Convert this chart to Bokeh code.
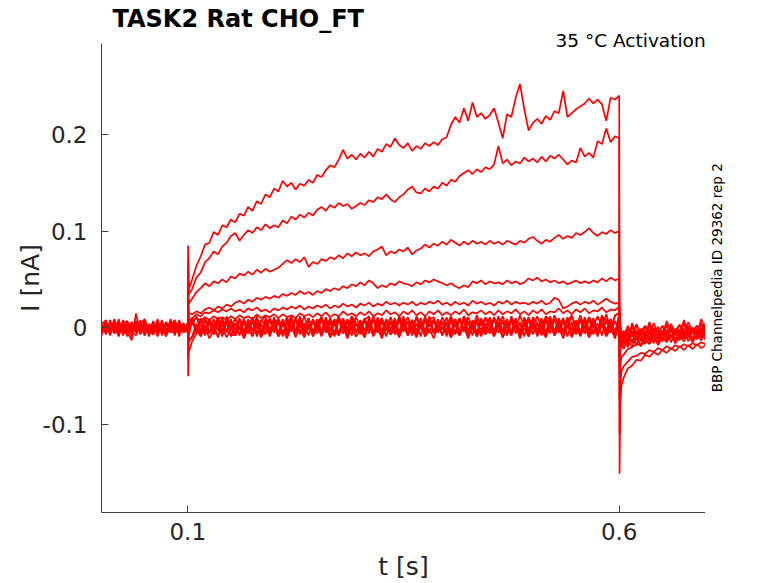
from bokeh.plotting import figure
from bokeh.layouts import row
from bokeh.models import Range1d, FixedTicker, Title, Label
from bokeh.embed import file_html
from bokeh.resources import INLINE

# ---------------- data (currents in pA) ----------------
t_pre = [round(0.005 * i, 4) for i in range(21)]            # 0.000 .. 0.100
t_on = [0.1004, 0.1012]                                      # onset transient
t_pulse = [round(0.105 + 0.005 * i, 4) for i in range(100)]  # 0.105 .. 0.600
t_off = [0.6004, 0.6012, 0.6025]                             # offset transient
t_post = [round(0.605 + 0.005 * i, 4) for i in range(20)]    # 0.605 .. 0.700

sweep1_pre = [2, -4, 5, -3, 1, -6, 4, -2, 3, -5, 2, -3, 6, -1, -4, 3, -2, 5, -3, 1, -2]
sweep1_on = [85, 40]
sweep1_pulse = [50, 64, 74, 86, 88, 99, 96, 106, 104, 112,
                109, 118, 116, 125, 121, 131, 128, 138, 135, 144,
                141, 152, 146, 150, 143, 149, 147, 153, 150, 158,
                156, 163, 168, 166, 174, 184, 175, 179, 174, 180,
                176, 182, 177, 185, 182, 190, 187, 196, 189, 186,
                191, 183, 188, 185, 191, 188, 192, 189, 195, 197,
                210, 218, 212, 227, 214, 233, 218, 222, 216, 220,
                227, 212, 196, 221, 218, 238, 252, 226, 204, 212,
                216, 211, 219, 215, 224, 222, 245, 218, 222, 226,
                229, 232, 237, 232, 236, 231, 214, 238, 236, 240]
sweep1_off = [-151, -80, -60]
sweep1_post = [-52, -42, -39, -33, -34, -28, -30, -25, -28, -23,
               -26, -21, -24, -19, -23, -18, -22, -17, -21, -18]

sweep2_pre = [-3, 2, -1, 4, -5, 3, -2, 1, 5, -4, 2, -1, -3, 4, -2, 3, -5, 1, 2, -3, 1]
sweep2_on = [70, 35]
sweep2_pulse = [40, 52, 57, 68, 72, 79, 76, 84, 88, 95,
                98, 90, 96, 101, 98, 104, 101, 107, 103, 106,
                104, 111, 108, 115, 112, 117, 114, 119, 116, 122,
                125, 121, 127, 124, 129, 126, 128, 123, 126, 129,
                127, 132, 130, 135, 133, 138, 133, 130, 135, 138,
                143, 146, 140, 139, 144, 141, 146, 144, 150, 147,
                153, 151, 157, 160, 163, 159, 164, 161, 166, 164,
                169, 188, 170, 174, 168, 172, 170, 176, 172, 175,
                171, 177, 172, 178, 175, 179, 174, 169, 173, 171,
                186, 177, 181, 176, 193, 190, 206, 192, 198, 196]
sweep2_off = [-110, -60, -45]
sweep2_post = [-40, -35, -30, -29, -26, -27, -23, -25, -21, -23,
               -19, -22, -18, -20, -17, -19, -16, -18, -15, -17]

sweep3_pre = [1, -4, 3, -2, 5, -1, -3, 4, -5, 2, 0, 3, -4, 1, -2, 5, -3, 2, -1, 4, -2]
sweep3_on = [55, 25]
sweep3_pulse = [30, 37, 41, 46, 43, 48, 46, 50, 47, 53,
                51, 56, 54, 58, 55, 60, 57, 61, 58, 60,
                62, 66, 70, 67, 71, 68, 73, 63, 68, 66,
                71, 69, 73, 71, 75, 72, 77, 74, 78, 75,
                77, 74, 79, 81, 84, 75, 79, 77, 81, 79,
                83, 76, 80, 82, 86, 83, 87, 85, 89, 86,
                91, 88, 85, 89, 86, 90, 87, 89, 86, 90,
                87, 89, 86, 90, 88, 86, 90, 88, 92, 94,
                90, 87, 91, 89, 93, 96, 92, 95, 93, 98,
                96, 99, 103, 98, 95, 99, 97, 101, 98, 100]
sweep3_off = [-75, -40, -30]
sweep3_post = [-28, -22, -20, -17, -18, -14, -16, -12, -14, -10,
               -13, -9, -12, -8, -11, -9, -12, -8, -10, -9]

sweep4_pre = [-2, 3, -5, 1, 4, -3, 2, -1, -4, 5, -2, 1, 3, -3, 0, -5, 4, -1, 2, -4, 2]
sweep4_on = [40, 15]
sweep4_pulse = [14, 17, 15, 19, 21, 18, 22, 20, 24, 22,
                26, 28, 25, 29, 27, 31, 29, 32, 30, 33,
                31, 35, 33, 36, 34, 38, 35, 37, 34, 38,
                36, 40, 38, 41, 39, 43, 41, 45, 43, 47,
                44, 49, 46, 41, 44, 42, 46, 44, 48, 46,
                45, 43, 47, 45, 49, 47, 50, 48, 46, 44,
                46, 43, 41, 44, 42, 48, 46, 49, 45, 48,
                46, 47, 45, 49, 46, 48, 45, 47, 51, 49,
                52, 48, 50, 47, 49, 46, 48, 45, 47, 49,
                46, 48, 46, 49, 47, 51, 48, 52, 49, 51]
sweep4_off = [-45, -25, -18]
sweep4_post = [-16, -12, -13, -9, -11, -7, -10, -6, -9, -5,
               -8, -4, -7, -5, -8, -3, -6, -4, -7, -3]

sweep5_pre = [3, -1, -4, 2, 5, -3, 1, -2, 4, -5, 3, 0, -2, 5, -4, 2, -1, 3, -3, 1, 0]
sweep5_on = [30, 8]
sweep5_pulse = [10, 14, 12, 16, 15, 18, 16, 19, 17, 20,
                17, 19, 16, 20, 18, 21, 17, 19, 16, 20,
                18, 21, 19, 22, 20, 23, 19, 22, 20, 23,
                21, 24, 20, 23, 21, 25, 22, 24, 21, 25,
                23, 26, 22, 25, 23, 27, 24, 26, 23, 26,
                24, 27, 23, 26, 24, 27, 25, 28, 24, 26,
                23, 27, 24, 26, 23, 28, 25, 27, 24, 26,
                23, 27, 25, 28, 24, 27, 25, 26, 24, 27,
                25, 28, 24, 26, 31, 29, 20, 22, 25, 27,
                24, 27, 25, 28, 24, 27, 30, 27, 25, 26]
sweep5_off = [-35, -18, -12]
sweep5_post = [-11, -7, -9, -4, -8, -3, -7, -2, -6, -3,
               -7, -1, -5, -2, -6, 0, -4, -2, -5, -1]

sweep6_pre = [-1, 4, -3, 2, -5, 1, 3, -4, 2, -2, 5, -3, 1, -1, 4, -4, 2, -2, 3, -5, 1]
sweep6_on = [20, 5]
sweep6_pulse = [6, 10, 7, 11, 8, 12, 9, 11, 8, 12,
                9, 13, 10, 12, 9, 14, 10, 13, 11, 14,
                10, 14, 11, 13, 10, 15, 12, 14, 11, 15,
                12, 16, 11, 14, 12, 17, 13, 15, 12, 16,
                13, 17, 12, 15, 13, 18, 14, 16, 12, 17,
                14, 18, 13, 16, 12, 17, 14, 18, 13, 16,
                13, 17, 14, 19, 13, 16, 15, 18, 14, 17,
                13, 18, 14, 17, 15, 19, 14, 17, 13, 18,
                15, 19, 14, 17, 16, 20, 15, 18, 14, 19,
                16, 20, 15, 18, 17, 21, 16, 19, 18, 22]
sweep6_off = [-25, -12, -8]
sweep6_post = [-6, -2, -5, 1, -4, 2, -3, -1, -5, 2,
               -4, 0, -3, 3, -2, -1, -4, 2, -3, 1]

sweep7_pre = [6, -7, 8, -5, 9, -8, 4, -9, 7, -6, 8, -4, 7, -9, 5, -7, 9, -6, 8, -5, 4]
sweep7_on = [-50, -25]
sweep7_pulse = [-14, -6, 3, -8, 6, -7, 8, -5, 7, -9,
                5, -8, 9, -6, 7, -9, 4, -7, 8, -5,
                6, -9, 8, -4, 9, -7, 5, -8, 7, -6,
                9, -5, 6, -9, 8, -6, 7, -8, 5, -7,
                8, -6, 9, -5, 7, -9, 6, -7, 8, -4,
                7, -8, 5, -9, 9, -6, 8, -5, 6, -9,
                8, -7, 9, -4, 6, -8, 7, -9, 5, -6,
                9, -5, 7, -8, 8, -6, 6, -9, 9, -7,
                5, -8, 8, -6, 9, -5, 7, -9, 6, -7,
                8, -6, 9, -7, 5, -8, 9, -5, 7, -4]
sweep7_off = [-20, -12, -8]
sweep7_post = [-15, -3, -16, -2, -14, -5, -13, 0, -12, -4,
               -11, 1, -13, -2, -10, 2, -12, -1, -9, 0]

sweep8_pre = [-5, 7, -8, 5, -6, 8, -4, -13, 15, -7, 6, -9, 5, -6, 8, -5, 7, -8, 6, -4, -3]
sweep8_on = [10, -8]
sweep8_pulse = [7, -5, 9, -6, 8, -7, 5, -9, 6, -8,
                -7, 8, -5, 9, -8, 6, -9, 7, -6, 8,
                -9, 5, -7, 8, -6, 9, -8, 4, -7, 6,
                -6, 9, -8, 5, -7, 8, -9, 6, -5, 7,
                -8, 6, -9, 7, -5, 9, -7, 5, -6, 8,
                -5, 8, -7, 6, -9, 7, -6, 9, -8, 5,
                -7, 9, -6, 8, -8, 5, -9, 7, -5, 9,
                -8, 6, -5, 9, -7, 8, -6, 5, -9, 7,
                -6, 8, -9, 6, -5, 9, -7, 8, -8, 6,
                -9, 7, -6, 8, -7, 5, -8, 9, -5, 10]
sweep8_off = [15, -5, -10]
sweep8_post = [-6, -20, -4, -18, -7, -17, -3, -16, -6, -14,
               -2, -15, -5, -13, -1, -14, -4, -12, 0, -13]

sweep9_pre = [2, -3, 4, -6, 3, -2, 6, -5, 1, -3, 5, -7, 2, -4, 6, -2, 3, -6, 4, -1, 2]
sweep9_on = [15, 2]
sweep9_pulse = [8, -1, 10, 0, 9, -2, 11, 1, 8, -1,
                10, -2, 9, 0, 11, -1, 8, 2, 10, -2,
                9, 1, 11, -1, 10, 0, 12, -2, 9, 1,
                11, -1, 10, 2, 12, 0, 9, -1, 11, 1,
                10, -2, 12, 1, 9, 0, 11, -1, 12, 2,
                11, 0, 10, -2, 12, 1, 9, -1, 11, 2,
                12, 1, 10, -1, 11, 0, 13, 2, 10, -1,
                11, 2, 12, 0, 10, -1, 13, 1, 11, 0,
                12, 1, 11, -1, 13, 2, 10, 0, 12, 1,
                13, 0, 11, 2, 12, 1, 14, -1, 12, 16]
sweep9_off = [18, 4, -6]
sweep9_post = [-10, 2, -9, 4, -8, 1, -7, 5, -6, 2,
               -8, 4, -5, 3, -7, 6, -4, 2, -6, 5]

sweep10_pre = [-6, 3, -2, 5, -7, 1, -4, 6, -3, 2, -8, 4, -1, 3, -5, 6, -2, 4, -6, 3, -1]
sweep10_on = [-30, -12]
sweep10_pulse = [-10, -2, -9, 1, -11, -3, -8, 0, -10, -1,
                 -8, 2, -11, -1, -9, 3, -10, 0, -7, 1,
                 -9, -2, -11, 2, -8, -1, -10, 3, -9, 0,
                 -7, 1, -10, -3, -8, 2, -11, 0, -9, -2,
                 -10, 3, -8, -1, -11, 1, -7, -2, -9, 2,
                 -8, 0, -10, 3, -9, -1, -11, 2, -7, 0,
                 -10, -2, -8, 1, -11, 3, -9, 0, -7, -1,
                 -9, 2, -10, -1, -8, 3, -11, 0, -9, 1,
                 -7, -2, -10, 2, -8, 0, -11, 3, -9, -1,
                 -8, 1, -10, -2, -7, 3, -9, 0, -11, 2]
sweep10_off = [-30, -20, -15]
sweep10_post = [-22, -12, -20, -9, -19, -11, -17, -8, -18, -10,
                -15, -7, -16, -9, -14, -6, -15, -8, -13, -5]

sweep11_pre = [4, -2, -6, 7, -3, 2, -5, 3, -1, 6, -4, 1, -7, 4, -2, 5, -3, -6, 2, -4, 3]
sweep11_on = [25, 10]
sweep11_pulse = [3, 12, -4, 8, -6, 9, -3, 11, -5, 7,
                 -2, 10, -6, 8, -3, 12, -5, 9, -4, 11,
                 -6, 7, -3, 10, -5, 12, -2, 8, -6, 9,
                 -4, 11, -3, 7, -6, 10, -2, 12, -5, 8,
                 -3, 9, -6, 11, -4, 8, -2, 10, -5, 12,
                 -6, 8, -3, 10, -4, 12, -5, 7, -2, 11,
                 -4, 9, -6, 12, -3, 8, -5, 10, -2, 11,
                 -5, 12, -3, 8, -6, 10, -4, 11, -2, 9,
                 -3, 10, -5, 12, -4, 9, -6, 11, -3, 8,
                 -5, 11, -2, 10, -4, 13, -3, 9, -5, 14]
sweep11_off = [10, -8, -14]
sweep11_post = [-4, -16, 2, -13, -3, -11, 4, -12, -2, -9,
                3, -10, -1, -8, 5, -9, 0, -7, 4, -6]

sweep12_pre = [-8, 5, -3, 9, -6, 2, -9, 6, -4, 8, -7, 3, -5, 9, -8, 4, -2, 7, -9, 5, -6]
sweep12_on = [5, -15]
sweep12_pulse = [-9, 4, -7, 10, -5, 3, -10, 7, -4, 9,
                 -8, 2, -10, 6, -3, 10, -7, 4, -9, 5,
                 -5, 9, -8, 3, -10, 7, -6, 10, -4, 2,
                 -9, 6, -3, 9, -7, 4, -10, 8, -5, 3,
                 -8, 10, -6, 2, -9, 7, -4, 9, -10, 5,
                 -3, 8, -9, 4, -7, 10, -5, 3, -8, 6,
                 -10, 7, -4, 9, -6, 2, -9, 8, -5, 10,
                 -7, 3, -10, 6, -4, 9, -8, 5, -3, 7,
                 -9, 4, -6, 10, -8, 2, -5, 9, -10, 6,
                 -4, 8, -7, 3, -9, 10, -6, 5, -8, 11]
sweep12_off = [22, 5, -12]
sweep12_post = [-18, -6, -15, -9, -19, -4, -14, -8, -16, -3,
                -12, -7, -15, -2, -11, -6, -13, -1, -10, -5]

sweep13_pre = [3, 8, -6, 1, -9, 5, 7, -3, -8, 4, 9, -2, -7, 6, 0, -9, 3, 8, -5, -1, 5]
sweep13_on = [-20, 0]
sweep13_pulse = [10, -4, 6, 11, -6, 3, 9, -5, 12, 1,
                 -7, 8, 4, -3, 11, -6, 7, 12, -2, 5,
                 9, -5, 2, 12, -4, 8, -1, 10, -6, 6,
                 11, -3, 7, -6, 10, 2, -4, 12, 5, -2,
                 8, 12, -5, 4, 10, -3, 7, -6, 11, 1,
                 6, -4, 12, 3, -5, 9, 11, -2, 7, -6,
                 10, 2, -5, 12, 6, -3, 9, -6, 11, 4,
                 -4, 10, 7, -5, 12, 1, -3, 9, -6, 11,
                 5, -2, 12, 8, -5, 10, -4, 7, 13, -3,
                 9, -6, 11, 4, -3, 12, 7, -5, 13, 15]
sweep13_off = [12, -2, -8]
sweep13_post = [-3, -12, 5, -8, -1, -10, 6, -6, 1, -9,
                7, -4, -2, -8, 8, -5, 0, -7, 9, -3]

sweeps = [
    (sweep7_pre, sweep7_on, sweep7_pulse, sweep7_off, sweep7_post),
    (sweep8_pre, sweep8_on, sweep8_pulse, sweep8_off, sweep8_post),
    (sweep9_pre, sweep9_on, sweep9_pulse, sweep9_off, sweep9_post),
    (sweep10_pre, sweep10_on, sweep10_pulse, sweep10_off, sweep10_post),
    (sweep11_pre, sweep11_on, sweep11_pulse, sweep11_off, sweep11_post),
    (sweep12_pre, sweep12_on, sweep12_pulse, sweep12_off, sweep12_post),
    (sweep13_pre, sweep13_on, sweep13_pulse, sweep13_off, sweep13_post),
    (sweep6_pre, sweep6_on, sweep6_pulse, sweep6_off, sweep6_post),
    (sweep5_pre, sweep5_on, sweep5_pulse, sweep5_off, sweep5_post),
    (sweep4_pre, sweep4_on, sweep4_pulse, sweep4_off, sweep4_post),
    (sweep3_pre, sweep3_on, sweep3_pulse, sweep3_off, sweep3_post),
    (sweep2_pre, sweep2_on, sweep2_pulse, sweep2_off, sweep2_post),
    (sweep1_pre, sweep1_on, sweep1_pulse, sweep1_off, sweep1_post),
]

x_ticks = [0.1, 0.6]
y_ticks = [-0.1, 0, 0.1, 0.2]

title_text = "TASK2  Rat  CHO_FT"
temp_text = "35 °C  Activation"
id_text = "BBP Channelpedia ID 29362 rep 2"

# ---------------- figure ----------------
TXT = "#262626"
FONT = "DejaVu Sans"

p = figure(frame_width=604, frame_height=469,
           x_range=Range1d(0.0, 0.7), y_range=Range1d(-0.191, 0.294),
           output_backend="svg", toolbar_location=None,
           min_border_left=101, min_border_right=0,
           min_border_top=43, min_border_bottom=10)

p.title.text = title_text
p.title.text_font = FONT
p.title.text_font_size = "24px"
p.title.text_font_style = "bold"
p.title.text_color = "black"
p.title.align = "left"
p.title.offset = 11
p.title.standoff = 3

temp_title = Title(text=temp_text, align="right", text_font=FONT,
                   text_font_size="18.5px", text_font_style="normal",
                   text_color="black", standoff=-14, offset=-6)
p.add_layout(temp_title, "above")

p.outline_line_color = None
p.background_fill_color = "white"
p.border_fill_color = "white"
p.grid.visible = False

t_all = t_pre + t_on + t_pulse + t_off + t_post
for pre, on, pulse, off, post in sweeps:
    vals = pre + on + pulse + off + post
    p.line(t_all, [v / 1000.0 for v in vals], line_color="#ff0000", line_width=1.7)

for ax in (p.xaxis[0], p.yaxis[0]):
    ax.axis_line_color = "#404040"
    ax.axis_line_width = 1
    ax.major_tick_line_color = "#404040"
    ax.major_tick_in = 7
    ax.major_tick_out = 0
    ax.minor_tick_line_color = None
    ax.major_label_text_font = FONT
    ax.major_label_text_font_size = "23px"
    ax.major_label_text_color = TXT
    ax.axis_label_text_font = FONT
    ax.axis_label_text_font_size = "25px"
    ax.axis_label_text_font_style = "normal"
    ax.axis_label_text_color = TXT

p.xaxis.ticker = FixedTicker(ticks=x_ticks)
p.xaxis.major_label_overrides = {0.1: "0.1", 0.6: "0.6"}
p.xaxis.axis_label = "t [s]"
p.xaxis.major_label_standoff = 10
p.xaxis.axis_label_standoff = 9

p.yaxis.ticker = FixedTicker(ticks=y_ticks)
p.yaxis.major_label_overrides = {-0.1: "-0.1", 0: "0", 0.1: "0.1", 0.2: "0.2"}
p.yaxis.axis_label = "I [nA]"
p.yaxis.major_label_standoff = 14
p.yaxis.axis_label_standoff = -5

# narrow side panel carrying the vertical dataset note
side = figure(frame_width=40, frame_height=469,
              x_range=Range1d(0, 40), y_range=p.y_range,
              output_backend="svg", toolbar_location=None,
              x_axis_location=None, y_axis_location=None,
              min_border_left=0, min_border_right=0,
              min_border_top=43, min_border_bottom=0)
side.outline_line_color = None
side.background_fill_color = "white"
side.border_fill_color = "white"
side.grid.visible = False
side.add_layout(Label(x=11, y=0.0517, text=id_text, angle=90, angle_units="deg",
                      text_align="center", text_baseline="middle", text_font=FONT,
                      text_font_size="13.5px", text_color="black"))

layout = row(p, side)
open("out.html", "w").write(file_html(layout, INLINE))
